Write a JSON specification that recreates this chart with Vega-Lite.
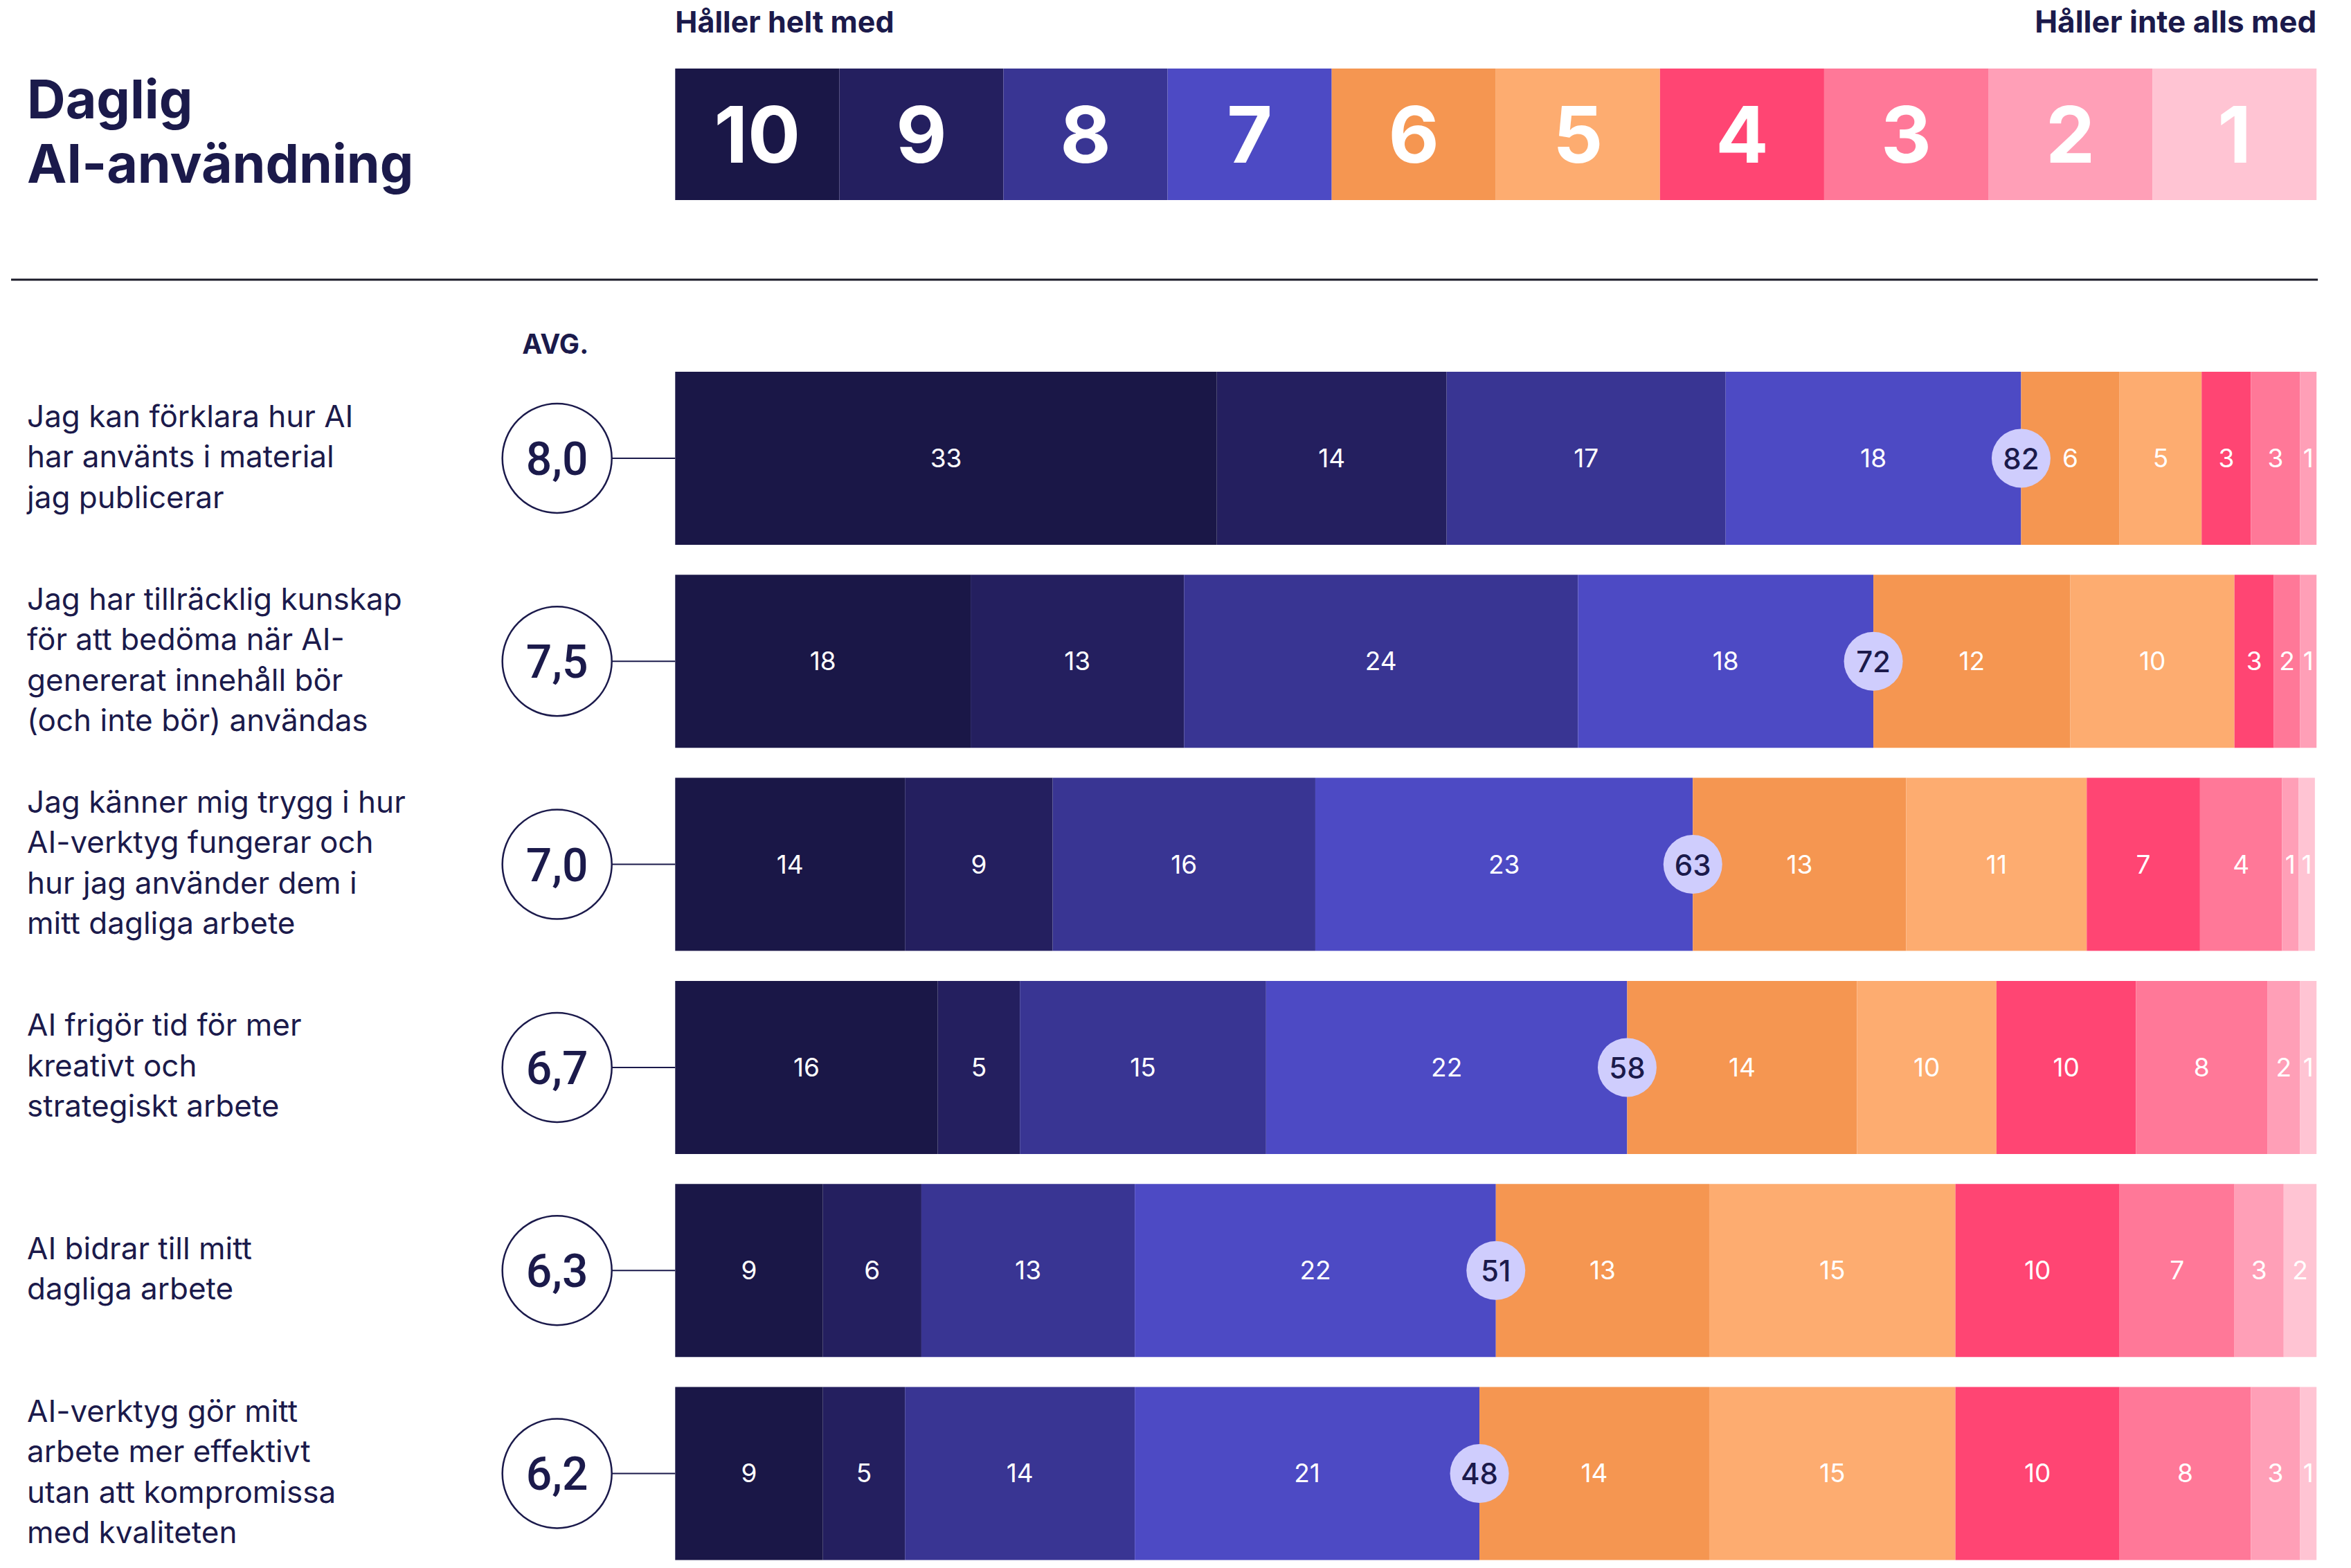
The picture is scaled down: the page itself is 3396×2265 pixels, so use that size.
{
  "$schema": "https://vega.github.io/schema/vega-lite/v6.json",
  "padding": 0,
  "background": "white",
  "spacing": 0,
  "bounds": "flush",
  "config": {
    "view": {"stroke": null},
    "locale": {"number": {"decimal": ",", "thousands": " ", "grouping": [3], "currency": ["", " kr"]}},
    "text": {"font": "Inter"}
  },
  "datasets": {
    "segments": [
      {"q": "q1", "score": 10, "share": 33, "label": 33},
      {"q": "q1", "score": 9, "share": 14, "label": 14},
      {"q": "q1", "score": 8, "share": 17, "label": 17},
      {"q": "q1", "score": 7, "share": 18, "label": 18},
      {"q": "q1", "score": 6, "share": 6, "label": 6},
      {"q": "q1", "score": 5, "share": 5, "label": 5},
      {"q": "q1", "score": 4, "share": 3, "label": 3},
      {"q": "q1", "score": 3, "share": 3, "label": 3},
      {"q": "q1", "score": 2, "share": 1, "label": 1},
      {"q": "q2", "score": 10, "share": 18, "label": 18},
      {"q": "q2", "score": 9, "share": 13, "label": 13},
      {"q": "q2", "score": 8, "share": 24, "label": 24},
      {"q": "q2", "score": 7, "share": 18, "label": 18},
      {"q": "q2", "score": 6, "share": 12, "label": 12},
      {"q": "q2", "score": 5, "share": 10, "label": 10},
      {"q": "q2", "score": 4, "share": 2.4, "label": 3},
      {"q": "q2", "score": 3, "share": 1.6, "label": 2},
      {"q": "q2", "score": 2, "share": 1, "label": 1},
      {"q": "q3", "score": 10, "share": 14, "label": 14},
      {"q": "q3", "score": 9, "share": 9, "label": 9},
      {"q": "q3", "score": 8, "share": 16, "label": 16},
      {"q": "q3", "score": 7, "share": 23, "label": 23},
      {"q": "q3", "score": 6, "share": 13, "label": 13},
      {"q": "q3", "score": 5, "share": 11, "label": 11},
      {"q": "q3", "score": 4, "share": 6.9, "label": 7},
      {"q": "q3", "score": 3, "share": 5, "label": 4},
      {"q": "q3", "score": 2, "share": 1, "label": 1},
      {"q": "q3", "score": 1, "share": 1, "label": 1},
      {"q": "q4", "score": 10, "share": 16, "label": 16},
      {"q": "q4", "score": 9, "share": 5, "label": 5},
      {"q": "q4", "score": 8, "share": 15, "label": 15},
      {"q": "q4", "score": 7, "share": 22, "label": 22},
      {"q": "q4", "score": 6, "share": 14, "label": 14},
      {"q": "q4", "score": 5, "share": 8.5, "label": 10},
      {"q": "q4", "score": 4, "share": 8.5, "label": 10},
      {"q": "q4", "score": 3, "share": 8, "label": 8},
      {"q": "q4", "score": 2, "share": 2, "label": 2},
      {"q": "q4", "score": 1, "share": 1, "label": 1},
      {"q": "q5", "score": 10, "share": 9, "label": 9},
      {"q": "q5", "score": 9, "share": 6, "label": 6},
      {"q": "q5", "score": 8, "share": 13, "label": 13},
      {"q": "q5", "score": 7, "share": 22, "label": 22},
      {"q": "q5", "score": 6, "share": 13, "label": 13},
      {"q": "q5", "score": 5, "share": 15, "label": 15},
      {"q": "q5", "score": 4, "share": 10, "label": 10},
      {"q": "q5", "score": 3, "share": 7, "label": 7},
      {"q": "q5", "score": 2, "share": 3, "label": 3},
      {"q": "q5", "score": 1, "share": 2, "label": 2},
      {"q": "q6", "score": 10, "share": 9, "label": 9},
      {"q": "q6", "score": 9, "share": 5, "label": 5},
      {"q": "q6", "score": 8, "share": 14, "label": 14},
      {"q": "q6", "score": 7, "share": 21, "label": 21},
      {"q": "q6", "score": 6, "share": 14, "label": 14},
      {"q": "q6", "score": 5, "share": 15, "label": 15},
      {"q": "q6", "score": 4, "share": 10, "label": 10},
      {"q": "q6", "score": 3, "share": 8, "label": 8},
      {"q": "q6", "score": 2, "share": 3, "label": 3},
      {"q": "q6", "score": 1, "share": 1, "label": 1}
    ],
    "questions": [
      {"q": "q1", "text": "Jag kan förklara hur AI\nhar använts i material\njag publicerar", "avg": 8.0, "agree": 82},
      {"q": "q2", "text": "Jag har tillräcklig kunskap\nför att bedöma när AI-\ngenererat innehåll bör\n(och inte bör) användas", "avg": 7.5, "agree": 72},
      {"q": "q3", "text": "Jag känner mig trygg i hur\nAI-verktyg fungerar och\nhur jag använder dem i\nmitt dagliga arbete", "avg": 7.0, "agree": 63},
      {"q": "q4", "text": "AI frigör tid för mer\nkreativt och\nstrategiskt arbete", "avg": 6.7, "agree": 58},
      {"q": "q5", "text": "AI bidrar till mitt\ndagliga arbete", "avg": 6.3, "agree": 51},
      {"q": "q6", "text": "AI-verktyg gör mitt\narbete mer effektivt\nutan att kompromissa\nmed kvaliteten", "avg": 6.2, "agree": 48}
    ],
    "scale_points": [
      {"score": 10}, {"score": 9}, {"score": 8}, {"score": 7}, {"score": 6},
      {"score": 5}, {"score": 4}, {"score": 3}, {"score": 2}, {"score": 1}
    ]
  },
  "vconcat": [
    {
      "width": 3396,
      "height": 99,
      "layer": [
        {
          "data": {"values": [{"label": "Håller helt med"}]},
          "mark": {"type": "text", "align": "left", "baseline": "alphabetic", "dy": -2.5, "fontSize": 43, "fontWeight": 700, "color": "#1b1a4b"},
          "encoding": {
            "x": {"datum": 0, "type": "quantitative", "scale": {"domain": [-41.136, 102.1], "nice": false, "zero": false}, "axis": null},
            "text": {"field": "label"}
          }
        },
        {
          "data": {"values": [{"label": "Håller inte alls med"}]},
          "mark": {"type": "text", "align": "right", "baseline": "alphabetic", "dy": -2.5, "fontSize": 44, "fontWeight": 700, "color": "#1b1a4b"},
          "encoding": {
            "x": {"datum": 100, "type": "quantitative", "scale": {"domain": [-41.136, 102.1], "nice": false, "zero": false}, "axis": null},
            "text": {"field": "label"}
          }
        }
      ]
    },
    {
      "width": 3396,
      "height": 190,
      "resolve": {"scale": {"x": "independent"}},
      "layer": [
        {
          "data": {"name": "scale_points"},
          "layer": [
            {
              "mark": {"type": "rect"},
              "encoding": {
                "x": {"field": "score", "type": "ordinal", "sort": "descending", "scale": {"range": [975.3, 3346.2], "paddingInner": 0, "paddingOuter": 0}, "axis": null},
                "color": {"field": "score", "type": "ordinal", "scale": {"domain": [10, 9, 8, 7, 6, 5, 4, 3, 2, 1], "range": ["#1a1747", "#241f5f", "#393593", "#4d4ac4", "#f59651", "#fdac70", "#ff4573", "#ff7898", "#ff9fb7", "#ffc4d3"]}, "legend": null}
              }
            },
            {
              "mark": {"type": "text", "baseline": "middle", "align": "center", "dy": 7, "fontSize": 113, "fontWeight": 700, "color": "white"},
              "encoding": {
                "x": {"field": "score", "type": "ordinal", "sort": "descending", "scale": {"range": [975.3, 3346.2], "paddingInner": 0, "paddingOuter": 0}, "axis": null},
                "text": {"field": "score", "type": "ordinal"}
              }
            }
          ]
        },
        {
          "data": {"values": [{"title": "Daglig\nAI-användning"}]},
          "mark": {"type": "text", "align": "left", "baseline": "middle", "dy": -46, "fontSize": 77, "fontWeight": 700, "color": "#1b1a4b", "lineBreak": "\n", "lineHeight": 93},
          "encoding": {
            "x": {"datum": -39.49, "type": "quantitative", "scale": {"domain": [-41.136, 102.1], "nice": false, "zero": false}, "axis": null},
            "text": {"field": "title"}
          }
        }
      ]
    },
    {
      "width": 3396,
      "height": 248,
      "layer": [
        {
          "data": {"values": [{"k": 1}]},
          "mark": {"type": "rule", "strokeWidth": 3, "color": "#1c1c2a", "yOffset": -9},
          "encoding": {
            "x": {"datum": -40.46, "type": "quantitative", "scale": {"domain": [-41.136, 102.1], "nice": false, "zero": false}, "axis": null},
            "x2": {"datum": 100.08}
          }
        },
        {
          "data": {"values": [{"label": "AVG."}]},
          "mark": {"type": "text", "align": "center", "baseline": "middle", "dy": 86, "fontSize": 39, "fontWeight": 700, "color": "#1b1a4b"},
          "encoding": {
            "x": {"datum": -7.3, "type": "quantitative", "scale": {"domain": [-41.136, 102.1], "nice": false, "zero": false}, "axis": null},
            "text": {"field": "label"}
          }
        }
      ]
    },
    {
      "width": 3396,
      "height": 1716.5,
      "encoding": {
        "y": {"field": "q", "type": "nominal", "scale": {"domain": ["q1", "q2", "q3", "q4", "q5", "q6"], "paddingInner": 0.1476, "paddingOuter": 0}, "axis": null}
      },
      "layer": [
        {
          "data": {"name": "segments"},
          "mark": {"type": "bar"},
          "encoding": {
            "x": {"field": "share", "type": "quantitative", "stack": "zero", "scale": {"domain": [-41.136, 102.1], "nice": false, "zero": false}, "axis": null},
            "color": {"field": "score", "type": "ordinal", "scale": {"domain": [10, 9, 8, 7, 6, 5, 4, 3, 2, 1], "range": ["#1a1747", "#241f5f", "#393593", "#4d4ac4", "#f59651", "#fdac70", "#ff4573", "#ff7898", "#ff9fb7", "#ffc4d3"]}, "legend": null},
            "order": {"field": "score", "type": "quantitative", "sort": "descending"}
          }
        },
        {
          "data": {"name": "segments"},
          "mark": {"type": "text", "align": "center", "baseline": "middle", "dy": 2, "fontSize": 37, "fontWeight": 400, "color": "white"},
          "encoding": {
            "x": {"field": "share", "type": "quantitative", "stack": "zero", "bandPosition": 0.5, "scale": {"domain": [-41.136, 102.1], "nice": false, "zero": false}, "axis": null},
            "detail": {"field": "score", "type": "ordinal"},
            "order": {"field": "score", "type": "quantitative", "sort": "descending"},
            "text": {"field": "label", "type": "quantitative"}
          }
        },
        {
          "data": {"name": "questions"},
          "mark": {"type": "rule", "strokeWidth": 2, "color": "#1b1a4b"},
          "encoding": {
            "x": {"datum": -3.85, "type": "quantitative"},
            "x2": {"datum": 0}
          }
        },
        {
          "data": {"name": "questions"},
          "mark": {"type": "point", "shape": "circle", "filled": true, "fill": "white", "stroke": "#1b1a4b", "strokeWidth": 2.5, "size": 24964, "opacity": 1},
          "encoding": {
            "x": {"datum": -7.196, "type": "quantitative"}
          }
        },
        {
          "data": {"name": "questions"},
          "mark": {"type": "text", "align": "center", "baseline": "middle", "dy": 4, "font": "Roboto", "fontSize": 66, "fontWeight": 500, "color": "#1b1a4b"},
          "encoding": {
            "x": {"datum": -7.196, "type": "quantitative"},
            "text": {"field": "avg", "type": "quantitative", "format": ".1f"}
          }
        },
        {
          "data": {"name": "questions"},
          "transform": [{"filter": "length(split(datum.text, '\\n')) == 2"}],
          "mark": {"type": "text", "align": "left", "baseline": "middle", "dy": -29.25, "fontSize": 44, "fontWeight": 400, "color": "#1b1a4b", "lineBreak": "\n", "lineHeight": 58.5},
          "encoding": {
            "x": {"datum": -39.49, "type": "quantitative"},
            "text": {"field": "text", "type": "nominal"}
          }
        },
        {
          "data": {"name": "questions"},
          "transform": [{"filter": "length(split(datum.text, '\\n')) == 3"}],
          "mark": {"type": "text", "align": "left", "baseline": "middle", "dy": -58.5, "fontSize": 44, "fontWeight": 400, "color": "#1b1a4b", "lineBreak": "\n", "lineHeight": 58.5},
          "encoding": {
            "x": {"datum": -39.49, "type": "quantitative"},
            "text": {"field": "text", "type": "nominal"}
          }
        },
        {
          "data": {"name": "questions"},
          "transform": [{"filter": "length(split(datum.text, '\\n')) == 4"}],
          "mark": {"type": "text", "align": "left", "baseline": "middle", "dy": -87.75, "fontSize": 44, "fontWeight": 400, "color": "#1b1a4b", "lineBreak": "\n", "lineHeight": 58.5},
          "encoding": {
            "x": {"datum": -39.49, "type": "quantitative"},
            "text": {"field": "text", "type": "nominal"}
          }
        },
        {
          "data": {"name": "segments"},
          "transform": [
            {"stack": "share", "groupby": ["q"], "sort": [{"field": "score", "order": "descending"}], "as": ["s0", "s1"]},
            {"filter": "datum.score == 7"},
            {"lookup": "q", "from": {"data": {"name": "questions"}, "key": "q", "fields": ["agree"]}}
          ],
          "layer": [
            {
              "mark": {"type": "point", "shape": "circle", "filled": true, "fill": "#cfcdfd", "strokeWidth": 0, "size": 7225, "opacity": 1},
              "encoding": {"x": {"field": "s1", "type": "quantitative"}}
            },
            {
              "mark": {"type": "text", "align": "center", "baseline": "middle", "dy": 3, "fontSize": 42, "fontWeight": 500, "color": "#1b1a4b"},
              "encoding": {
                "x": {"field": "s1", "type": "quantitative"},
                "text": {"field": "agree", "type": "quantitative"}
              }
            }
          ]
        }
      ]
    }
  ]
}
